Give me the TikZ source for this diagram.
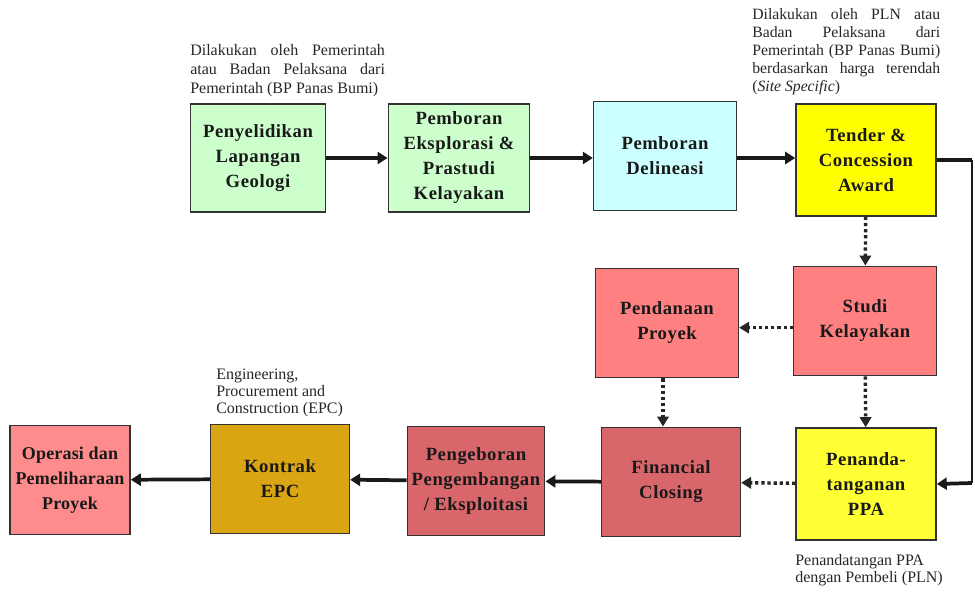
\documentclass[tikz,border=0pt]{standalone}
\usepackage{fontspec}
\setmainfont{Liberation Serif}
\usetikzlibrary{arrows.meta}

\definecolor{hijau}{HTML}{CCFFCC}
\definecolor{biru}{HTML}{CCFFFF}
\definecolor{kuning}{HTML}{FFFF00}
\definecolor{kuningmuda}{HTML}{FFFF33}
\definecolor{merah}{HTML}{FF8080}
\definecolor{merahtua}{HTML}{D9666B}
\definecolor{merahmuda}{HTML}{FF8C8C}
\definecolor{emas}{HTML}{DAA512}

\tikzset{
  tahap/.style={draw=black!80, line width=1.2pt, minimum width=104pt, minimum height=81pt,
    align=center, font=\bfseries\fontsize{14}{18.75}\selectfont\addfontfeature{LetterSpace=3}, text=black!90},
  catatan/.style={align=justify, font=\fontsize{12}{14.2}\selectfont, text=black!85, inner sep=0pt},
  panah/.style={line width=2.8pt, black!90, -{Triangle[length=7.5pt,width=9pt]}},
  garis/.style={line width=2.8pt, black!90},
  titik/.style={line width=2.6pt, black!85, dash pattern=on 2.4pt off 2.2pt,
    -{Triangle[length=7.5pt,width=8.5pt]}}
}

\begin{document}
\begin{tikzpicture}[x=0.75pt, y=-0.75pt]
    \useasboundingbox (0,0) rectangle (975,592);

    % Baris atas
    \node[tahap, fill=hijau, minimum width=101pt] (geologi) at (258,158) {Penyelidikan\\Lapangan\\Geologi};
    \node[tahap, fill=hijau, minimum width=106pt] (eksplorasi) at (459,158) {Pemboran\\Eksplorasi \&\\Prastudi\\Kelayakan};
    \node[tahap, fill=biru, minimum width=107pt, minimum height=82pt] (delineasi) at (665,156) {Pemboran\\Delineasi};
    \node[tahap, fill=kuning, minimum width=105pt, minimum height=84pt] (tender) at (866,160) {Tender \&\\Concession\\Award};

    % Baris tengah
    \node[tahap, fill=merah, minimum width=107pt, minimum height=82pt] (studi) at (865,321) {Studi\\Kelayakan};
    \node[tahap, fill=merah, minimum width=107pt, minimum height=82pt] (pendanaan) at (667,323) {Pendanaan\\Proyek};

    % Baris bawah
    \node[tahap, fill=kuningmuda, minimum width=105pt, minimum height=84pt] (ppa) at (866,484) {Penanda-\\tanganan\\PPA};
    \node[tahap, fill=merahtua, minimum width=104pt, minimum height=82pt] (closing) at (671,482) {Financial\\Closing};
    \node[tahap, fill=merahtua, minimum width=103pt, minimum height=82pt, inner xsep=0pt] (eksploitasi) at (476,481) {Pengeboran\\Pengembangan\\/ Eksploitasi};
    \node[tahap, fill=emas, minimum width=104pt, minimum height=82pt] (epc) at (280,479) {Kontrak\\EPC};
    \node[tahap, fill=merahmuda, minimum width=90pt, minimum height=82pt, inner xsep=0pt,
      font=\bfseries\fontsize{13.5}{18.75}\selectfont\addfontfeature{LetterSpace=1}] (operasi) at (70,480) {Operasi dan\\Pemeliharaan\\Proyek};

    % Catatan
    \node[catatan, text width=146pt, anchor=south west] (cat1) at (190,97)
      {Dilakukan oleh Pemerintah\linebreak atau Badan Pelaksana dari\linebreak Pemerintah (BP Panas Bumi)};
    \node[catatan, text width=141pt, anchor=south west, font=\fontsize{11.8}{13.5}\selectfont] (cat2) at (752,95)
      {Dilakukan oleh PLN atau\linebreak Badan Pelaksana dari\linebreak Pemerintah (BP Panas Bumi)\linebreak berdasarkan harga terendah\linebreak (\textit{Site Specific})};
    \node[catatan, align=left, anchor=south west, font=\fontsize{12}{12.75}\selectfont] (cat3) at (216,417)
      {Engineering,\\Procurement and\\Construction (EPC)};
    \node[catatan, align=left, anchor=north west, font=\fontsize{12}{12.75}\selectfont] (cat4) at (795,554)
      {Penandatangan PPA\\dengan Pembeli (PLN)};

    % Panah utama
    \draw[panah] (geologi) -- (eksplorasi);
    \draw[panah] (eksplorasi.east) -- (eksplorasi.east -| delineasi.west);
    \draw[panah] ([yshift=-1.5pt]delineasi.east) -- ([yshift=-1.5pt]delineasi.east -| tender.west);
    \coordinate (sudut1) at (972,160);
    \coordinate (sudut2) at (972,483);
    \draw[garis] (tender.east) -- (sudut1);
    \draw[line width=1.2pt, black!90] (sudut1) -- (sudut2);
    \draw[panah] (sudut2) -- (ppa.east);

    % Panah titik-titik
    \draw[titik] (tender) -- (studi);
    \draw[titik] ([yshift=-5pt]studi.west) -- ([yshift=-5pt]studi.west -| pendanaan.east);
    \draw[titik] ([xshift=-3pt]pendanaan.south) -- ([xshift=-3pt]pendanaan.south |- closing.north);
    \draw[titik] (studi) -- (ppa);
    \draw[titik] (ppa) -- (closing);

    % Panah bawah
    \draw[panah] (closing) -- (eksploitasi);
    \draw[panah] (eksploitasi) -- (epc);
    \draw[panah] (epc) -- (operasi);

\end{tikzpicture}
\end{document}
